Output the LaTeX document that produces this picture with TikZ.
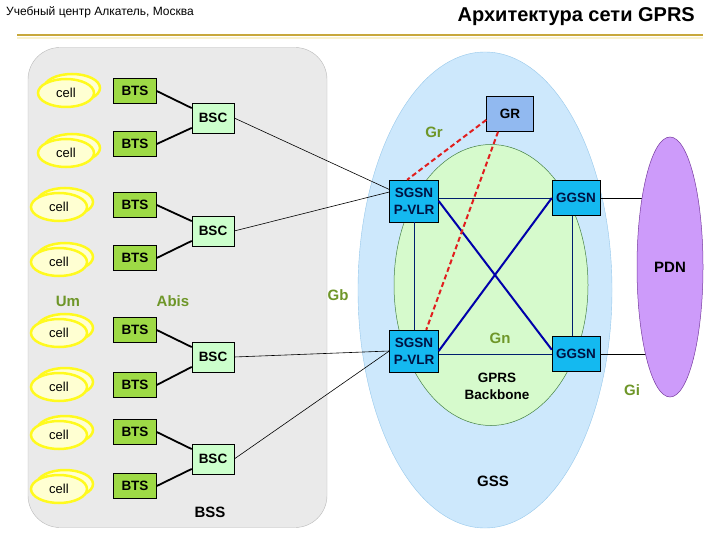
\documentclass[tikz,border=0pt]{standalone}
\usepackage{fontspec}
\setmainfont{Liberation Sans}
\usetikzlibrary{positioning,shapes.geometric}
\definecolor{RuleGold}{RGB}{200,168,60}
\definecolor{RulePale}{RGB}{250,242,205}
\definecolor{BssGray}{RGB}{234,234,234}
\definecolor{BssEdge}{RGB}{185,185,185}
\definecolor{CellYellow}{RGB}{255,250,30}
\definecolor{CellFill}{RGB}{255,255,210}
\definecolor{BtsGreen}{RGB}{158,218,70}
\definecolor{BscGreen}{RGB}{204,255,204}
\definecolor{GssBlue}{RGB}{205,232,252}
\definecolor{GssEdge}{RGB}{150,200,235}
\definecolor{CoreGreen}{RGB}{214,250,204}
\definecolor{CoreEdge}{RGB}{70,130,70}
\definecolor{GrBlue}{RGB}{145,185,240}
\definecolor{GsnCyan}{RGB}{20,185,240}
\definecolor{LinkNavy}{RGB}{0,30,110}
\definecolor{CrossBlue}{RGB}{0,0,170}
\definecolor{DashRed}{RGB}{225,30,30}
\definecolor{PdnViolet}{RGB}{205,155,250}
\definecolor{PdnEdge}{RGB}{120,60,160}
\definecolor{LabelOlive}{RGB}{110,150,40}

\begin{document}
\begin{tikzpicture}[x=1pt, y=-1pt,
  every node/.style={align=center, inner sep=0pt, font=\fontsize{13.5}{17}\selectfont\bfseries},
  cellring/.style={ellipse, draw=CellYellow, line width=2.5pt, fill=CellFill,
    minimum width=56pt, minimum height=28pt, font=\fontsize{13}{15}\selectfont},
  btsbox/.style={draw, fill=BtsGreen, minimum width=43pt, minimum height=25pt},
  bscbox/.style={draw, fill=BscGreen, minimum width=42pt, minimum height=30pt},
  gsnbox/.style={draw, fill=GsnCyan, text=LinkNavy!60!black, minimum width=49pt, minimum height=42pt},
  iflabel/.style={text=LabelOlive, font=\fontsize{15}{17}\selectfont\bfseries},
  arealabel/.style={font=\fontsize{15}{17}\selectfont\bfseries},
  abislink/.style={line width=1.8pt},
  gblink/.style={line width=0.6pt},
  gnlink/.style={line width=0.8pt, LinkNavy},
  gncross/.style={line width=2pt, CrossBlue},
  grlink/.style={line width=2pt, DashRed, dash pattern=on 5pt off 3pt}]
  \fill[white] (0,0) rectangle (720,540);
  \useasboundingbox (0,0) rectangle (720,540);
  % header
  \node[anchor=west, font=\fontsize{12}{14}\selectfont] (school) at (6,12)
        {Учебный центр Алкатель, Москва};
  \node[anchor=east, font=\fontsize{20}{22}\selectfont\bfseries] (title) at (695,17)
        {Архитектура сети GPRS};
  \draw[RulePale, line width=2pt] (17,38) -- (703,38);
  \draw[RuleGold, line width=1.6pt] (17,35) -- (703,35);
  % areas
  \node[draw=BssEdge, fill=BssGray, rounded corners=32pt, minimum width=299pt,
        minimum height=480pt] (bss) at (177.5,287.5) {};
  \node[ellipse, draw=GssEdge, fill=GssBlue, minimum width=254pt,
        minimum height=476pt] (gss) at (485,290) {};
  \node[ellipse, draw=CoreEdge, fill=CoreGreen, line width=0.5pt, minimum width=194pt,
        minimum height=281pt] (backbone) at (491,285) {};
  % cells
  \node[cellring] (cell1b) at (72,88) {};
  \node[cellring] (cell1) at (66,93) {cell};
  \node[cellring] (cell2b) at (72,148) {};
  \node[cellring] (cell2) at (66,153) {cell};
  \node[cellring] (cell3b) at (65,202) {};
  \node[cellring] (cell3) at (59,207) {cell};
  \node[cellring] (cell4b) at (65,257) {};
  \node[cellring] (cell4) at (59,262) {cell};
  \node[cellring] (cell5b) at (65,328) {};
  \node[cellring] (cell5) at (59,333) {cell};
  \node[cellring] (cell6b) at (65,382) {};
  \node[cellring] (cell6) at (59,387) {cell};
  \node[cellring] (cell7b) at (65,430) {};
  \node[cellring] (cell7) at (59,435) {cell};
  \node[cellring] (cell8b) at (65,484) {};
  \node[cellring] (cell8) at (59,489) {cell};
  % base stations
  \node[btsbox] (bts1) at (135,91) {BTS};
  \node[btsbox] (bts2) at (135,144) {BTS};
  \node[btsbox] (bts3) at (135,205) {BTS};
  \node[btsbox] (bts4) at (135,258) {BTS};
  \node[btsbox] (bts5) at (135,330) {BTS};
  \node[btsbox] (bts6) at (135,385) {BTS};
  \node[btsbox] (bts7) at (135,432) {BTS};
  \node[btsbox] (bts8) at (135,486) {BTS};
  \node[bscbox] (bsc1) at (213,118) {BSC};
  \node[bscbox] (bsc2) at (213,231) {BSC};
  \node[bscbox] (bsc3) at (213,357) {BSC};
  \node[bscbox] (bsc4) at (213,459) {BSC};
  % core nodes
  \node[draw, fill=GrBlue, minimum width=47pt, minimum height=35pt] (gr) at (510,114) {GR};
  \node[gsnbox] (sgsn1) at (414,201) {SGSN\\P-VLR};
  \node[gsnbox] (sgsn2) at (414,351) {SGSN\\P-VLR};
  \node[gsnbox, minimum width=48pt, minimum height=35pt] (ggsn1) at (576,198) {GGSN};
  \node[gsnbox, minimum width=48pt, minimum height=35pt] (ggsn2) at (576,354) {GGSN};
  % Abis
  \draw[abislink] (bts1.east) -- (bsc1.155);
  \draw[abislink] (bts2.east) -- (bsc1.205);
  \draw[abislink] (bts3.east) -- (bsc2.155);
  \draw[abislink] (bts4.east) -- (bsc2.205);
  \draw[abislink] (bts5.east) -- (bsc3.155);
  \draw[abislink] (bts6.east) -- (bsc3.205);
  \draw[abislink] (bts7.east) -- (bsc4.155);
  \draw[abislink] (bts8.east) -- (bsc4.205);
  % Gb
  \draw[gblink] (bsc1.east) -- (sgsn1.155);
  \draw[gblink] (bsc2.east) -- (sgsn1.160);
  \draw[gblink] (bsc3.east) -- (sgsn2.west);
  \draw[gblink] (bsc4.east) -- (sgsn2.west);
  % Gn
  \draw[gnlink] (ggsn1.west -| sgsn1.east) -- (ggsn1.west);
  \draw[gnlink] (ggsn2.west -| sgsn2.east) -- (ggsn2.west);
  \draw[gnlink] (sgsn1.south) -- (sgsn2.north);
  \draw[gnlink] (ggsn1.260) -- (ggsn2.100);
  \draw[gncross] (sgsn1.east) -- (ggsn2.170);
  \draw[gncross] (ggsn1.west) -- (sgsn2.east);
  % Gr
  \draw[grlink] (gr.194) -- (sgsn1.108);
  \draw[grlink] (gr.236) -- (sgsn2.60);
  % Gi
  \coordinate (pdnc) at (670,267);
  \draw[line width=0.8pt] (ggsn1.east) -- (ggsn1.east -| pdnc);
  \draw[line width=0.8pt] (ggsn2.east) -- (ggsn2.east -| pdnc);
  \node[ellipse, draw=PdnEdge, fill=PdnViolet, line width=0.5pt, minimum width=66pt,
        minimum height=260pt, arealabel] (pdn) at (pdnc) {PDN};
  % texts
  \node (gprs) at (497,386) {GPRS\\Backbone};
  \node[arealabel] (gsslabel) at (493,481) {GSS};
  \node[arealabel] (bsslabel) at (210,512) {BSS};
  \node[iflabel] (um) at (68,301) {Um};
  \node[iflabel] (abis) at (173,301) {Abis};
  \node[iflabel] (gb) at (338,295) {Gb};
  \node[iflabel] (grlabel) at (434,132) {Gr};
  \node[iflabel] (gn) at (500,338) {Gn};
  \node[iflabel] (gi) at (632,390) {Gi};
\end{tikzpicture}
\end{document}
